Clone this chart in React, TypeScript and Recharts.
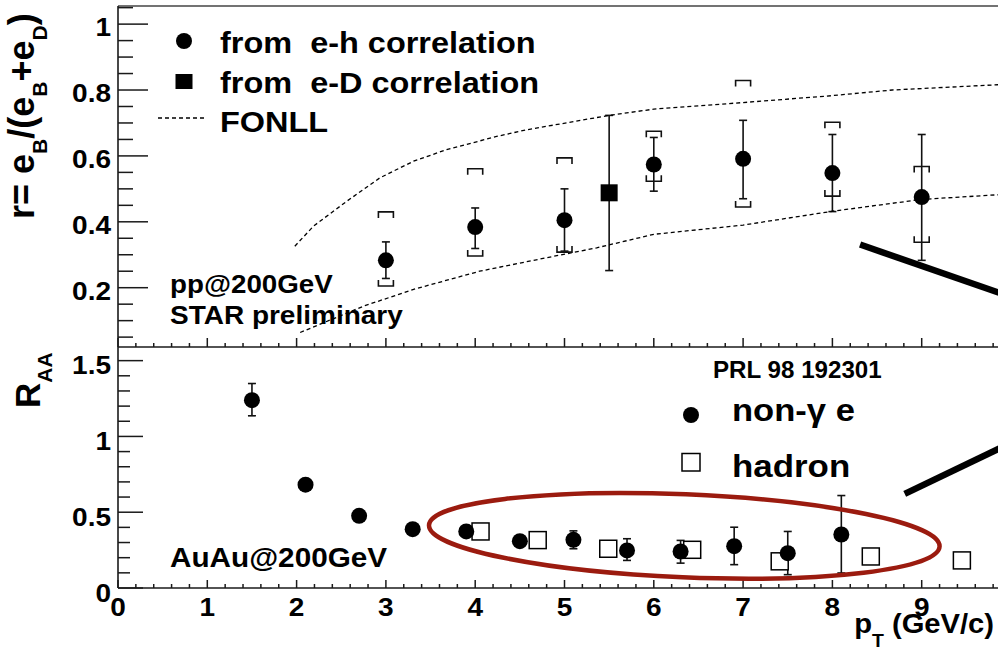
import React from 'react';
import { ScatterChart, Scatter, XAxis, YAxis, ErrorBar, ReferenceLine } from 'recharts';

const FONT = "'Liberation Sans', Arial, Helvetica, sans-serif";
const AX = '#1a1a1a';

// ---------- top panel: r = eB/(eB+eD) ----------
const EH_X = [3, 4, 5, 6, 7, 8, 9];
const EH_R = [0.283, 0.384, 0.405, 0.574, 0.591, 0.548, 0.475];
const EH_STAT_LO = [0.228, 0.319, 0.311, 0.493, 0.47, 0.431, 0.283];
const EH_STAT_HI = [0.339, 0.442, 0.5, 0.656, 0.708, 0.665, 0.665];
const EH_SYS_LO = [0.205, 0.296, 0.308, 0.523, 0.445, 0.478, 0.338];
const EH_SYS_HI = [0.43, 0.561, 0.594, 0.675, 0.829, 0.702, 0.568];

const ED_X = [5.5];
const ED_R = [0.488];
const ED_LO = [0.252];
const ED_HI = [0.723];

const FONLL_HI_X = [1.98, 2.19, 2.56, 2.93, 3.31, 3.68, 4.24, 4.57, 5.5, 6.0, 7.15, 8.0, 8.67, 9.85, 10];
const FONLL_HI_Y = [0.326, 0.387, 0.462, 0.533, 0.584, 0.619, 0.659, 0.679, 0.723, 0.742, 0.765, 0.783, 0.8, 0.816, 0.818];
const FONLL_LO_X = [2.04, 2.75, 3.31, 4.05, 4.8, 5.36, 6.0, 7.0, 8.0, 9.0, 9.85, 10];
const FONLL_LO_Y = [0.064, 0.144, 0.195, 0.25, 0.291, 0.321, 0.362, 0.39, 0.432, 0.468, 0.482, 0.484];

// ---------- bottom panel: R_AA ----------
const NONG_X = [1.5, 2.1, 2.7, 3.3, 3.9, 4.5, 5.1, 5.7, 6.3, 6.9, 7.5, 8.1];
const NONG_Y = [1.239, 0.682, 0.476, 0.388, 0.373, 0.309, 0.318, 0.248, 0.241, 0.276, 0.23, 0.353];
const NONG_LO = [1.136, 0.682, 0.476, 0.388, 0.373, 0.309, 0.259, 0.182, 0.164, 0.154, 0.088, 0.099];
const NONG_HI = [1.349, 0.682, 0.476, 0.388, 0.373, 0.309, 0.377, 0.325, 0.314, 0.401, 0.373, 0.61];

const HADRON_X = [4.06, 4.7, 5.49, 6.43, 7.41, 8.43, 9.45];
const HADRON_Y = [0.373, 0.316, 0.259, 0.252, 0.176, 0.208, 0.182];

// ---------- ticks ----------
const X_MAJOR = [0, 1, 2, 3, 4, 5, 6, 7, 8, 9, 10];
const X_LABELS = ['0', '1', '2', '3', '4', '5', '6', '7', '8', '9', ''];
const X_TICKS = Array.from({ length: 51 }, (_, i) => Math.round(i * 20) / 100);
const TOP_Y_MAJOR = [0.2, 0.4, 0.6, 0.8, 1];
const TOP_Y_LABELS = ['0.2', '0.4', '0.6', '0.8', '1'];
const TOP_Y_TICKS = Array.from({ length: 21 }, (_, i) => Math.round((i + 1) * 5) / 100);
const BOT_Y_MAJOR = [0, 0.5, 1, 1.5];
const BOT_Y_LABELS = ['0', '0.5', '1', '1.5'];
const BOT_Y_TICKS = Array.from({ length: 16 }, (_, i) => Math.round(i * 10) / 100);

const TOP_DOMAIN: [number, number] = [0.02, 1.055];
const BOT_DOMAIN: [number, number] = [0, 1.59];

// annotation segments (data coords)
const TOP_ARROW = [{ x: 8.31, y: 0.331 }, { x: 10, y: 0.172 }];
const BOT_ARROW = [{ x: 8.81, y: 0.621 }, { x: 10, y: 0.958 }];

// ---------- derived tables ----------
const ehData = EH_X.map((x, i) => ({ x, y: EH_R[i], err: [EH_R[i] - EH_STAT_LO[i], EH_STAT_HI[i] - EH_R[i]] }));
const ehSysHi = EH_X.map((x, i) => ({ x, y: EH_SYS_HI[i] }));
const ehSysLo = EH_X.map((x, i) => ({ x, y: EH_SYS_LO[i] }));
const edData = ED_X.map((x, i) => ({ x, y: ED_R[i], err: [ED_R[i] - ED_LO[i], ED_HI[i] - ED_R[i]] }));
const fonllHi = FONLL_HI_X.map((x, i) => ({ x, y: FONLL_HI_Y[i] }));
const fonllLo = FONLL_LO_X.map((x, i) => ({ x, y: FONLL_LO_Y[i] }));
const nongData = NONG_X.map((x, i) => ({ x, y: NONG_Y[i], err: [NONG_Y[i] - NONG_LO[i], NONG_HI[i] - NONG_Y[i]] }));
const hadronData = HADRON_X.map((x, i) => ({ x, y: HADRON_Y[i] }));

// ---------- helpers ----------
const near = (arr: number[], v: number) => arr.findIndex((m) => Math.abs(m - v) < 1e-6);

const T = ({ x, y, size, sx = 1.1, anchor = 'start', children }: any) => (
  <text
    transform={`translate(${x} ${y}) scale(${sx} 1)`}
    fontSize={size}
    fontWeight="bold"
    fontFamily={FONT}
    textAnchor={anchor}
    fill="#000"
    style={{ whiteSpace: 'pre' }}
  >
    {children}
  </text>
);

const makeYTick = (majors: number[], labels: string[], majLen: number, minLen: number, dy: number) => (p: any) => {
  const { x, y, payload } = p;
  const idx = near(majors, payload.value);
  const major = idx >= 0;
  return (
    <g>
      <line x1={x} x2={x + (major ? majLen : minLen)} y1={y} y2={y} stroke={AX} strokeWidth={1.5} />
      {major && (
        <T x={x - 7} y={y + dy} size={25} sx={1.12} anchor="end">
          {labels[idx]}
        </T>
      )}
    </g>
  );
};

const makeXTick = (majLen: number, minLen: number, withLabels: boolean) => (p: any) => {
  const { x, y, payload } = p;
  const idx = near(X_MAJOR, payload.value);
  const major = idx >= 0;
  return (
    <g>
      <line x1={x} x2={x} y1={y} y2={y - (major ? majLen : minLen)} stroke={AX} strokeWidth={1.5} />
      {major && withLabels && X_LABELS[idx] !== '' && (
        <T x={x} y={y + 28} size={25} sx={1.12} anchor="middle">
          {X_LABELS[idx]}
        </T>
      )}
    </g>
  );
};

const Dot = (p: any) => <circle cx={p.cx} cy={p.cy} r={8} fill="#000" />;
const FilledSquare = (p: any) => <rect x={p.cx - 8.5} y={p.cy - 8.5} width={17} height={17} fill="#000" />;
const OpenSquare = (p: any) => (
  <rect x={p.cx - 8.5} y={p.cy - 8.5} width={17} height={17} fill="#fff" stroke="#000" strokeWidth={1.5} />
);
const BracketTop = (p: any) => (
  <path d={`M${p.cx - 7.5},${p.cy + 6}V${p.cy}H${p.cx + 7.5}V${p.cy + 6}`} stroke="#111" strokeWidth={1.6} fill="none" />
);
const BracketBot = (p: any) => (
  <path d={`M${p.cx - 7.5},${p.cy - 6}V${p.cy}H${p.cx + 7.5}V${p.cy - 6}`} stroke="#111" strokeWidth={1.6} fill="none" />
);
const Nothing = () => <g />;

const topYTick = makeYTick(TOP_Y_MAJOR, TOP_Y_LABELS, 30, 15, 12);
const botYTick = makeYTick(BOT_Y_MAJOR, BOT_Y_LABELS, 25, 12, 13.5);
const topXTick = makeXTick(9, 4, false);
const botXTick = makeXTick(8, 4, true);

const axisLine = { stroke: AX, strokeWidth: 1.6 };

export default function App() {
  return (
    <div style={{ position: 'fixed', left: 0, top: 0, width: 998, height: 655, overflow: 'hidden', background: '#fff' }}>
      {/* top panel */}
      <div style={{ position: 'absolute', left: 0, top: 0 }}>
        <ScatterChart width={1040} height={360} margin={{ top: 6, right: 29, bottom: 0, left: 0 }}>
          <XAxis
            type="number"
            dataKey="x"
            domain={[0, 10]}
            ticks={X_TICKS}
            interval={0}
            tickSize={0}
            tickMargin={0}
            height={13}
            allowDataOverflow
            axisLine={axisLine}
            tick={topXTick}
          />
          <YAxis
            type="number"
            dataKey="y"
            domain={TOP_DOMAIN}
            ticks={TOP_Y_TICKS}
            interval={0}
            tickSize={0}
            tickMargin={0}
            width={118}
            allowDataOverflow
            axisLine={axisLine}
            tick={topYTick}
          />
          <ReferenceLine y={TOP_DOMAIN[1]} stroke="#444" strokeWidth={1.6} />
          <ReferenceLine segment={TOP_ARROW} stroke="#000" strokeWidth={6.5} ifOverflow="visible" />
          <Scatter
            data={fonllHi}
            line={{ stroke: '#000', strokeWidth: 1.3, strokeDasharray: '4 3' }}
            lineType="joint"
            shape={Nothing}
            isAnimationActive={false}
          />
          <Scatter
            data={fonllLo}
            line={{ stroke: '#000', strokeWidth: 1.3, strokeDasharray: '4 3' }}
            lineType="joint"
            shape={Nothing}
            isAnimationActive={false}
          />
          <Scatter data={ehSysHi} shape={BracketTop} isAnimationActive={false} />
          <Scatter data={ehSysLo} shape={BracketBot} isAnimationActive={false} />
          <Scatter data={ehData} shape={Dot} isAnimationActive={false}>
            <ErrorBar dataKey="err" direction="y" width={4} stroke="#111" strokeWidth={1.6} />
          </Scatter>
          <Scatter data={edData} shape={FilledSquare} isAnimationActive={false}>
            <ErrorBar dataKey="err" direction="y" width={4} stroke="#111" strokeWidth={1.6} />
          </Scatter>
        </ScatterChart>
      </div>

      {/* bottom panel */}
      <div style={{ position: 'absolute', left: 0, top: 0 }}>
        <ScatterChart width={1040} height={655} margin={{ top: 347, right: 29, bottom: 0, left: 0 }}>
          <XAxis
            type="number"
            dataKey="x"
            domain={[0, 10]}
            ticks={X_TICKS}
            interval={0}
            tickSize={0}
            tickMargin={0}
            height={67}
            allowDataOverflow
            axisLine={axisLine}
            tick={botXTick}
          />
          <YAxis
            type="number"
            dataKey="y"
            domain={BOT_DOMAIN}
            ticks={BOT_Y_TICKS}
            interval={0}
            tickSize={0}
            tickMargin={0}
            width={118}
            allowDataOverflow
            axisLine={axisLine}
            tick={botYTick}
          />
          <ReferenceLine segment={BOT_ARROW} stroke="#000" strokeWidth={6.5} ifOverflow="visible" />
          <Scatter data={hadronData} shape={OpenSquare} isAnimationActive={false} />
          <Scatter data={nongData} shape={Dot} isAnimationActive={false}>
            <ErrorBar dataKey="err" direction="y" width={4} stroke="#111" strokeWidth={1.6} />
          </Scatter>
        </ScatterChart>
      </div>

      {/* annotations */}
      <svg width={998} height={655} style={{ position: 'absolute', left: 0, top: 0, pointerEvents: 'none' }}>
        {/* y titles */}
        <text transform="translate(34 219) rotate(-90)" fontSize={36} fontWeight="bold" fontFamily={FONT} fill="#000">
          r= e<tspan fontSize={21} dy={13}>B</tspan>
          <tspan dy={-13}>/(e</tspan>
          <tspan fontSize={21} dy={13}>B</tspan>
          <tspan dy={-13}>+e</tspan>
          <tspan fontSize={21} dy={13}>D</tspan>
          <tspan dy={-13}>)</tspan>
        </text>
        <text transform="translate(40 408) rotate(-90)" fontSize={35} fontWeight="bold" fontFamily={FONT} fill="#000">
          R<tspan fontSize={21} dy={12}>AA</tspan>
        </text>

        {/* x title */}
        <text transform="translate(994 633) scale(1.08 1)" fontSize={27} fontWeight="bold" fontFamily={FONT} textAnchor="end" fill="#000" style={{ whiteSpace: 'pre' }}>
          p<tspan fontSize={18} dy={14}>T</tspan>
          <tspan dy={-14}> (GeV/c)</tspan>
        </text>

        {/* top legend */}
        <circle cx={184} cy={41} r={8} fill="#000" />
        <T x={220} y={53} size={29} sx={1.12}>from  e-h correlation</T>
        <rect x={175.5} y={74} width={17} height={15} fill="#000" />
        <T x={220} y={93} size={29} sx={1.12}>from  e-D correlation</T>
        <line x1={158} x2={207} y1={118} y2={118} stroke="#000" strokeWidth={1.3} strokeDasharray="4 3" />
        <T x={220} y={132} size={29} sx={1.12}>FONLL</T>

        <T x={170} y={293} size={25} sx={1.11}>pp@200GeV</T>
        <T x={170} y={324} size={25} sx={1.12}>STAR preliminary</T>

        {/* bottom legend */}
        <T x={713} y={378} size={23} sx={1.05}>PRL 98 192301</T>
        <circle cx={691} cy={415} r={8} fill="#000" />
        <T x={732} y={421} size={32} sx={1.08}>non-γ e</T>
        <rect x={682} y={453.5} width={18} height={17.5} fill="#fff" stroke="#000" strokeWidth={1.5} />
        <T x={732} y={477} size={32} sx={1.09}>hadron</T>

        <T x={170} y={567} size={27} sx={1.1}>AuAu@200GeV</T>

        {/* highlight ellipse */}
        <ellipse cx={684.3} cy={535.8} rx={255.5} ry={41.5} transform="rotate(2.4 684.3 535.8)" fill="none" stroke="#9b1b0f" strokeWidth={4.5} />
      </svg>
    </div>
  );
}
